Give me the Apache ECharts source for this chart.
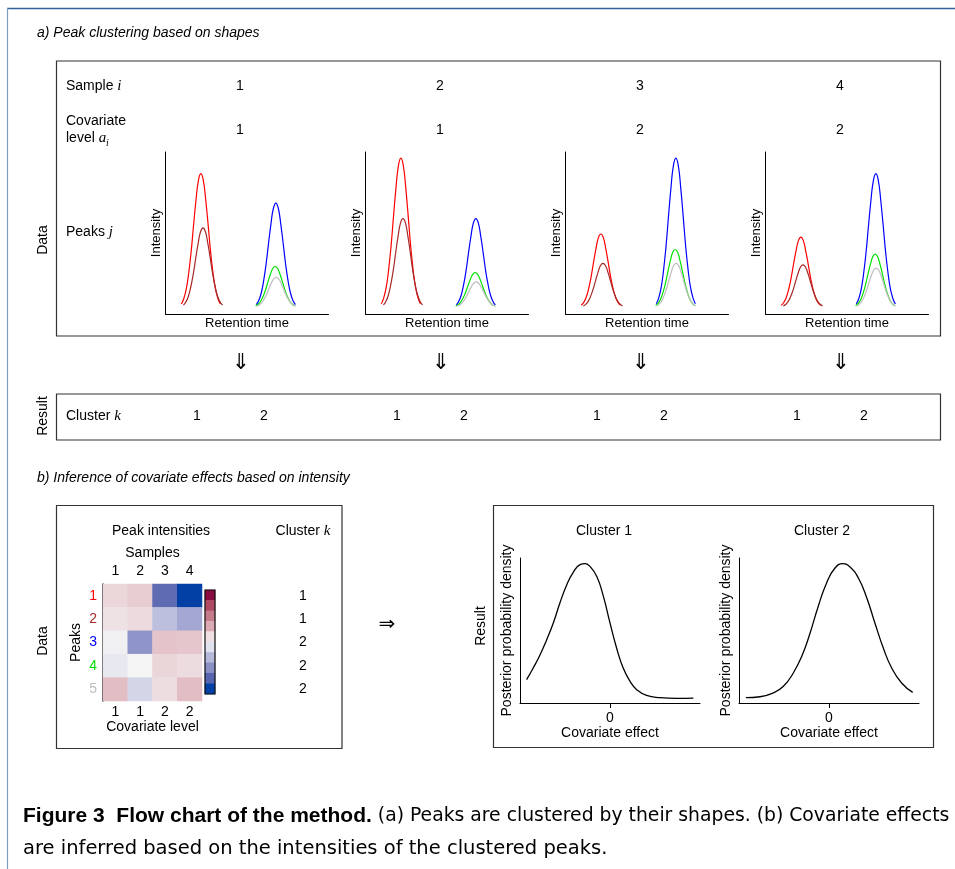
<!DOCTYPE html>
<html>
<head>
<meta charset="utf-8">
<title>Figure 3 Flow chart of the method</title>
<script src="https://cdn.jsdelivr.net/npm/echarts@6.0.0/dist/echarts.min.js"></script>
<style>
  html, body { margin: 0; padding: 0; background: #fff; }
  #main { width: 955px; height: 869px; }
</style>
</head>
<body>
<div id="main"></div>
<script>
// ---- values ----
const sampleIds = ['1', '2', '3', '4'];
const covariateLevels = ['1', '1', '2', '2'];
const peakIds = ['1', '2', '3', '4', '5'];
const peakClusters = ['1', '1', '2', '2', '2'];
const resultClusters = ['1', '2'];

// retention time of each peak apex (axis 0..100)
const peakCenters = [21.7, 23.0, 67.7, 67.3, 67.9];
// apex height of peaks 1..5 in each sample (axis 0..100)
const heightsSample1 = [86, 51, 67, 26, 19];
const heightsSample2 = [96, 57, 57, 22, 16];
const heightsSample3 = [47, 28, 96, 37, 28];
const heightsSample4 = [45, 27, 86, 34, 25];
// shape shared by all peaks: offset from apex / relative height
const shapeOffsets = [-12, -10.5, -9, -7.5, -6, -4.5, -3, -1.5, 0, 1.5, 3, 4.5, 6, 7.5, 9, 10.5, 12];
const shapeProfile = [0.02, 0.06, 0.13, 0.25, 0.41, 0.61, 0.80, 0.95, 1, 0.95, 0.80, 0.61, 0.41, 0.25, 0.13, 0.06, 0.02];

// peak intensities, rows = peaks 1..5, cols = samples 1..4 (-1 blue .. 1 red)
const intensityRows = [
  [0.105, 0.137, -0.71, -1.0],
  [0.063, 0.09, -0.226, -0.36],
  [-0.02, -0.47, 0.167, 0.157],
  [-0.05, 0, 0.107, 0.083],
  [0.187, -0.13, 0.08, 0.187]
];
// colour key, top to bottom
const colorbarSteps = [1, 0.778, 0.556, 0.333, 0.111, -0.111, -0.333, -0.556, -0.778, -1];

// posterior densities
const cluster1Effect = [-2.78, -2.56, -2.33, -2.11, -1.89, -1.67, -1.44, -1.22, -1.0, -0.83, -0.67, -0.44, -0.22, 0, 0.22, 0.44, 0.67, 0.89, 1.22, 1.67, 2.22, 2.78];
const cluster1Density = [0.161, 0.241, 0.333, 0.437, 0.552, 0.69, 0.816, 0.903, 0.954, 0.961, 0.942, 0.873, 0.735, 0.552, 0.379, 0.241, 0.149, 0.092, 0.052, 0.037, 0.032, 0.034];
const cluster2Effect = [-2.77, -2.3, -1.86, -1.52, -1.19, -0.91, -0.63, -0.36, -0.08, 0.2, 0.46, 0.7, 0.98, 1.26, 1.53, 1.81, 2.09, 2.42, 2.79];
const cluster2Density = [0.037, 0.043, 0.069, 0.115, 0.207, 0.321, 0.483, 0.666, 0.828, 0.931, 0.961, 0.938, 0.862, 0.724, 0.552, 0.379, 0.241, 0.138, 0.073];

// ---- styles ----
const FONT = 'Liberation Sans';
const MATH = 'Liberation Serif';
const CAPTION = 'DejaVu Sans';
const peakColors = ['#ff0000', '#a52a2a', '#0000ff', '#00e000', '#bebebe'];
const heatRamp = ['#0340a5', '#5765b0', '#8a90c6', '#b6b9da', '#f5f5f5', '#dcaab4', '#c67b8b', '#b04763', '#8a0b3f'];
const keyRamp = ['#0340a5', '#5765b0', '#8a90c6', '#b6b9da', '#e0e2ef', '#f0e0e3', '#dcaab4', '#c67b8b', '#b04763', '#8a0b3f'];
const black = '#000';

const sampleHeights = [heightsSample1, heightsSample2, heightsSample3, heightsSample4];
const peakGridLeft = [165.5, 365.5, 565.5, 765.5];

let grid = [], xAxis = [], yAxis = [], series = [];
const noAxis = { axisTick: { show: false }, axisLabel: { show: false }, splitLine: { show: false } };
const blackLine = { show: true, onZero: false, lineStyle: { color: black, width: 1 } };

// a) one small plot per sample
sampleHeights.forEach(function (heights, s) {
  grid.push({ left: peakGridLeft[s], top: 152, width: 163, height: 162, outerBoundsMode: 'none' });
  xAxis.push(Object.assign({
    type: 'value', gridIndex: s, min: 0, max: 100,
    name: 'Retention time', nameLocation: 'middle', nameGap: 3,
    nameTextStyle: { fontFamily: FONT, fontSize: 13, color: black, verticalAlign: 'top' },
    axisLine: blackLine
  }, noAxis));
  yAxis.push(Object.assign({
    type: 'value', gridIndex: s, min: -4.7, max: 100,
    name: 'Intensity', nameLocation: 'middle', nameGap: 3, nameRotate: 90,
    nameTextStyle: { fontFamily: FONT, fontSize: 13, color: black },
    axisLine: blackLine
  }, noAxis));
  heights.forEach(function (h, p) {
    series.push({
      type: 'line', xAxisIndex: s, yAxisIndex: s, smooth: true, symbol: 'none', silent: true,
      lineStyle: { color: peakColors[p], width: 1.2 },
      data: shapeOffsets.map(function (o, k) { return [peakCenters[p] + o, h * shapeProfile[k]]; })
    });
  });
});

// b) heatmap of peak intensities (grid 4)
grid.push({ left: 103, top: 584, width: 99, height: 117, outerBoundsMode: 'none' });
xAxis.push({
  type: 'category', gridIndex: 4, position: 'top', data: sampleIds,
  name: 'Samples', nameLocation: 'middle', nameGap: 24,
  nameTextStyle: { fontFamily: FONT, fontSize: 14, color: black },
  axisLine: { show: false }, axisTick: { show: false }, splitLine: { show: false },
  axisLabel: { margin: 6, fontFamily: FONT, fontSize: 14, color: black }
});
xAxis.push({
  type: 'category', gridIndex: 4, position: 'bottom', data: sampleIds,
  name: 'Covariate level', nameLocation: 'middle', nameGap: 19,
  nameTextStyle: { fontFamily: FONT, fontSize: 14, color: black, verticalAlign: 'top' },
  axisLine: { show: false }, axisTick: { show: false }, splitLine: { show: false },
  axisLabel: { margin: 4, fontFamily: FONT, fontSize: 14, color: black,
    formatter: function (v, i) { return covariateLevels[i]; } }
});
yAxis.push({
  type: 'category', gridIndex: 4, inverse: true, data: peakIds,
  name: 'Peaks', nameLocation: 'middle', nameGap: 20, nameRotate: 90,
  nameTextStyle: { fontFamily: FONT, fontSize: 14, color: black },
  axisLine: { show: true, lineStyle: { color: '#222', width: 1.5 } }, axisTick: { show: false }, splitLine: { show: false },
  axisLabel: { margin: 6, fontFamily: FONT, fontSize: 14,
    color: function (v) { return peakColors[peakIds.indexOf(v)]; } }
});
yAxis.push({
  type: 'category', gridIndex: 4, inverse: true, position: 'right', data: peakIds,
  axisLine: { show: false }, axisTick: { show: false }, splitLine: { show: false },
  axisLabel: { margin: 101, align: 'center', fontFamily: FONT, fontSize: 14, color: black,
    formatter: function (v, i) { return peakClusters[i]; } }
});
let heatData = [];
intensityRows.forEach(function (row, r) {
  row.forEach(function (v, c) { heatData.push([c, r, v]); });
});
series.push({ type: 'heatmap', xAxisIndex: 4, yAxisIndex: 4, data: heatData, silent: true, emphasis: { disabled: true } });
const heatIndex = series.length - 1;

// colour key (grid 5)
grid.push({ left: 205, top: 590, width: 10, height: 104, outerBoundsMode: 'none' });
xAxis.push(Object.assign({ type: 'category', gridIndex: 5, data: ['k'], axisLine: { show: false } }, noAxis));
yAxis.push(Object.assign({ type: 'category', gridIndex: 5, data: colorbarSteps.map(String), axisLine: { show: false } }, noAxis));
series.push({
  type: 'heatmap', xAxisIndex: 6, yAxisIndex: 6, silent: true, emphasis: { disabled: true },
  data: colorbarSteps.map(function (v, i) { return [0, colorbarSteps.length - 1 - i, v]; })
});
const keyIndex = series.length - 1;

// posterior densities (grids 6, 7)
[[520, cluster1Effect, cluster1Density], [739, cluster2Effect, cluster2Density]].forEach(function (d, n) {
  const g = 6 + n;
  grid.push({ left: d[0], top: 558, width: 180, height: 145, outerBoundsMode: 'none' });
  xAxis.push({
    type: 'value', gridIndex: g, min: -3, max: 3,
    name: 'Covariate effect', nameLocation: 'middle', nameGap: 23,
    nameTextStyle: { fontFamily: FONT, fontSize: 14, color: black, verticalAlign: 'top' },
    axisLine: blackLine, splitLine: { show: false },
    axisTick: { show: true, length: 5, customValues: [0], lineStyle: { color: black } },
    axisLabel: { customValues: [0], margin: 8, fontFamily: FONT, fontSize: 14, color: black }
  });
  yAxis.push(Object.assign({
    type: 'value', gridIndex: g, min: 0, max: 1,
    name: 'Posterior probability density', nameLocation: 'middle', nameGap: 6, nameRotate: 90,
    nameTextStyle: { fontFamily: FONT, fontSize: 14, color: black },
    axisLine: blackLine
  }, noAxis));
  series.push({
    type: 'line', xAxisIndex: g + 1, yAxisIndex: g + 1, smooth: true, symbol: 'none', silent: true,
    lineStyle: { color: black, width: 1.3 },
    data: d[1].map(function (x, i) { return [x, d[2][i]]; })
  });
});

// ---- text, boxes and arrows ----
function text(x, y, str, opt) {
  opt = opt || {};
  return {
    type: 'text', x: x, y: y, rotation: opt.rotation || 0, z: 10,
    style: {
      text: str, fill: opt.fill || black,
      fontFamily: opt.family || FONT, fontSize: opt.size || 14,
      fontStyle: opt.italic ? 'italic' : 'normal', fontWeight: opt.bold ? 'bold' : 'normal',
      align: opt.align || 'left', verticalAlign: 'middle',
      rich: { m: { fontFamily: MATH, fontStyle: 'italic', fontSize: 15 } }
    }
  };
}
function box(x, y, w, h, color) {
  return { type: 'rect', z: 10, shape: { x: x, y: y, width: w, height: h },
    style: { fill: 'none', stroke: color || '#333', lineWidth: 1.2 } };
}
const up = Math.PI / 2;

let graphic = [
  { type: 'line', z: 10, shape: { x1: 7, y1: 8.5, x2: 955, y2: 8.5 }, style: { stroke: '#33609a', lineWidth: 1.5 } },
  { type: 'line', z: 10, shape: { x1: 7.5, y1: 8, x2: 7.5, y2: 869 }, style: { stroke: '#7f9cc4', lineWidth: 1.2 } },
  text(37, 33, 'a) Peak clustering based on shapes', { italic: true }),
  box(56.5, 61, 884, 275),
  text(43, 240, 'Data', { rotation: up, align: 'center' }),
  text(66, 86, 'Sample {m|i}'),
  text(66, 121, 'Covariate'),
  text(66, 138, 'level {m|a}'),
  text(106, 143, 'i', { family: MATH, italic: true, size: 10 }),
  text(66, 232, 'Peaks {m|j}'),
  box(56.5, 394, 884, 46),
  text(43, 416, 'Result', { rotation: up, align: 'center' }),
  text(66, 416, 'Cluster {m|k}'),
  text(37, 478, 'b) Inference of covariate effects based on intensity', { italic: true }),
  box(56.5, 505.5, 285.5, 243),
  text(43, 641, 'Data', { rotation: up, align: 'center' }),
  text(161, 531, 'Peak intensities', { align: 'center' }),
  text(303, 531, 'Cluster {m|k}', { align: 'center' }),
  { type: 'rect', z: 10, shape: { x: 205, y: 590, width: 10, height: 104 }, style: { fill: 'none', stroke: '#111', lineWidth: 1.2 } },
  text(387, 625, '\u21d2', { family: 'DejaVu Sans', size: 20, align: 'center' }),
  box(493.5, 505.5, 440, 242),
  text(481, 626, 'Result', { rotation: up, align: 'center' }),
  text(604, 531, 'Cluster 1', { align: 'center' }),
  text(822, 531, 'Cluster 2', { align: 'center' })
];
sampleIds.forEach(function (s, i) {
  graphic.push(text(240 + 200 * i, 86, s, { align: 'center' }));
  graphic.push(text(240 + 200 * i, 130, covariateLevels[i], { align: 'center' }));
  graphic.push(text(241 + 200 * i, 363, '\u21d3', { family: 'DejaVu Sans', size: 22, align: 'center' }));
  graphic.push(text(197 + 200 * i, 416, resultClusters[0], { align: 'center' }));
  graphic.push(text(264 + 200 * i, 416, resultClusters[1], { align: 'center' }));
});
// caption under the figure
graphic.push({
  type: 'text', x: 23, y: 816, z: 10,
  style: {
    text: '{b|Figure 3  Flow chart of the method.} (a) Peaks are clustered by their shapes. (b) Covariate effects',
    fill: black, fontFamily: CAPTION, fontSize: 18.8, verticalAlign: 'middle',
    rich: { b: { fontFamily: FONT, fontSize: 21, fontWeight: 'bold' } }
  }
});
graphic.push(text(23, 849, 'are inferred based on the intensities of the clustered peaks.', { family: CAPTION, size: 19.5 }));

const chart = echarts.init(document.getElementById('main'));
chart.setOption({
  animation: false,
  backgroundColor: '#fff',
  textStyle: { fontFamily: FONT },
  grid: grid,
  xAxis: xAxis,
  yAxis: yAxis,
  visualMap: [
    { type: 'continuous', show: false, seriesIndex: heatIndex, min: -1, max: 1, inRange: { color: heatRamp } },
    { type: 'continuous', show: false, seriesIndex: keyIndex, min: -1, max: 1, inRange: { color: keyRamp } }
  ],
  series: series,
  graphic: graphic
});
</script>
</body>
</html>
